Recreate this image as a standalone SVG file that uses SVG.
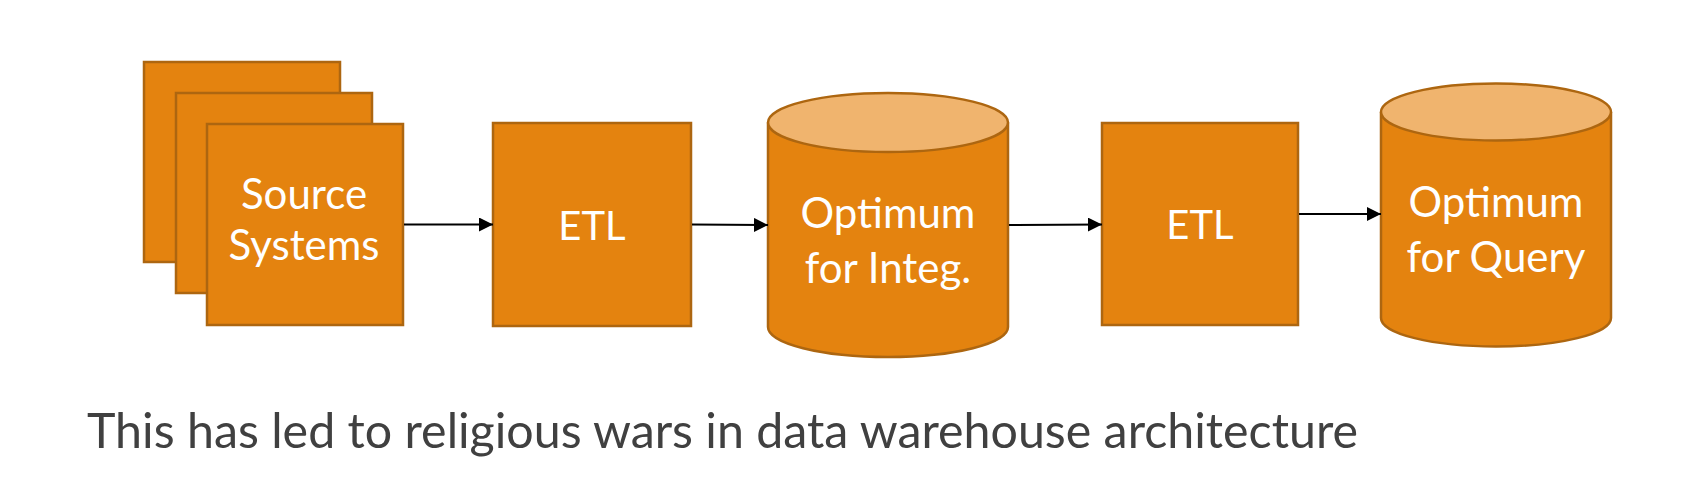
<svg xmlns="http://www.w3.org/2000/svg" width="1702" height="496" viewBox="0 0 1702 496">
  <style>
    .box { fill: #E4830F; stroke: #AD6610; stroke-width: 2.5; }
    .top { fill: #F0B46E; stroke: #AD6610; stroke-width: 2.5; }
    .lbl { fill: #FFFFFF; font-family: Lato, "Open Sans", sans-serif; font-size: 42px; text-anchor: middle; }
    .etl { font-size: 40px; }
    .note { fill: #404040; font-family: Lato, "Open Sans", sans-serif; font-size: 48px; }
    .conn { stroke: #000000; stroke-width: 2; fill: none; marker-end: url(#arrow); }
  </style>
  <defs>
    <marker id="arrow" markerUnits="userSpaceOnUse" markerWidth="14" markerHeight="14" refX="14" refY="7" orient="auto">
      <path d="M0,0 L14,7 L0,14 Z" fill="#000000"/>
    </marker>
  </defs>
  <rect width="1702" height="496" fill="#FFFFFF"/>

  <g id="source-systems">
    <rect class="box" x="144" y="62" width="196" height="200"/>
    <rect class="box" x="176" y="93" width="196" height="200"/>
    <rect class="box" x="207" y="124" width="196" height="201"/>
    <text class="lbl" x="304" y="209">Source</text>
    <text class="lbl" x="304" y="260">Systems</text>
  </g>

  <g id="etl-1">
    <rect class="box" x="493" y="123" width="198" height="203"/>
    <text class="lbl etl" x="592" y="240">ETL</text>
  </g>

  <g id="db-integ">
    <path class="box" d="M768,122.5 L768,327 A120,30 0 0 0 1008,327 L1008,122.5"/>
    <ellipse class="top" cx="888" cy="122.5" rx="120" ry="29.5"/>
    <text class="lbl" x="888" y="228">Optimum</text>
    <text class="lbl" x="888" y="283">for Integ.</text>
  </g>

  <g id="etl-2">
    <rect class="box" x="1102" y="123" width="196" height="202"/>
    <text class="lbl etl" x="1200" y="239">ETL</text>
  </g>

  <g id="db-query">
    <path class="box" d="M1381,112 L1381,318 A115,28.5 0 0 0 1611,318 L1611,112"/>
    <ellipse class="top" cx="1496" cy="112" rx="115" ry="28.5"/>
    <text class="lbl" x="1496" y="217">Optimum</text>
    <text class="lbl" x="1496" y="272">for Query</text>
  </g>

  <g id="connectors">
    <line class="conn" x1="404" y1="224.5" x2="493" y2="224.5"/>
    <line class="conn" x1="692" y1="224.5" x2="768" y2="225"/>
    <line class="conn" x1="1009" y1="225" x2="1102" y2="224.5"/>
    <line class="conn" x1="1299" y1="214" x2="1381" y2="214"/>
  </g>

  <g id="caption">
    <text class="note" x="87" y="448" textLength="1271" lengthAdjust="spacingAndGlyphs">This has led to religious wars in data warehouse architecture</text>
  </g>
</svg>
